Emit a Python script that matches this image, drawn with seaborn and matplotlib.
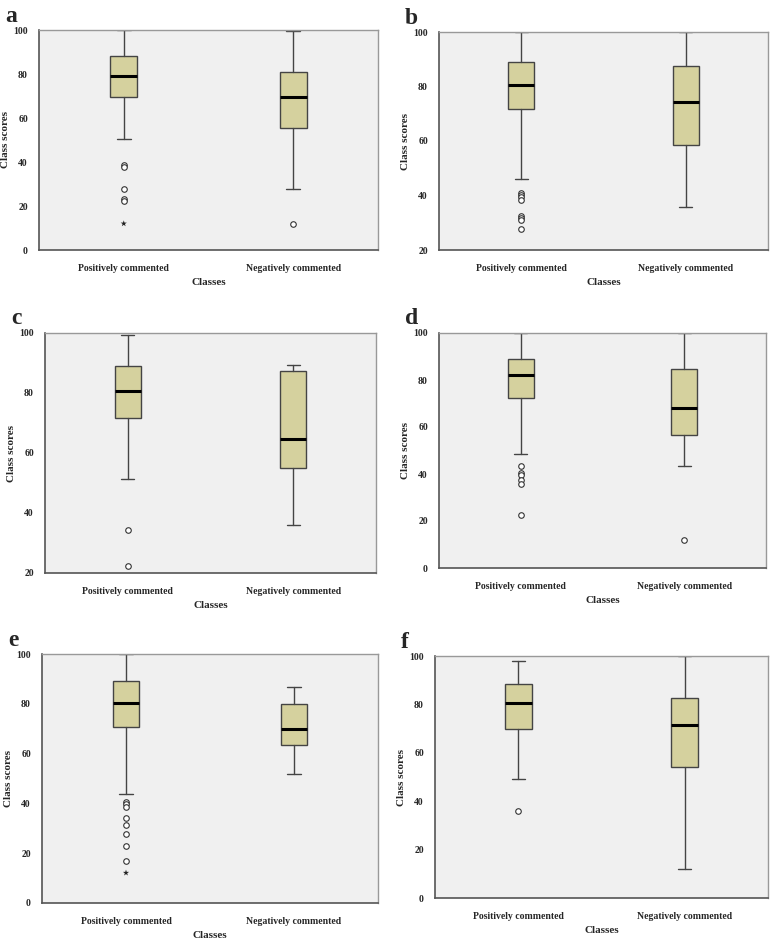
import numpy as np
import matplotlib
matplotlib.use('Agg')
import matplotlib.pyplot as plt
import seaborn as sns

sns.set_style('white')
plt.rcParams['font.family'] = ['Liberation Serif', 'DejaVu Serif']
plt.rcParams['font.weight'] = 'bold'

classes = ['Positively commented', 'Negatively commented']
panels = ['a', 'b', 'c', 'd', 'e', 'f']

# five-number summaries per panel: [whislo, q1, med, q3, whishi]
pos_stats = {
    'a': [50.4, 69.5, 79.1, 88.3, 100.0],
    'b': [46.1, 71.7, 80.4, 88.9, 100.0],
    'c': [51.2, 71.8, 80.7, 89.0, 99.5],
    'd': [48.5, 72.3, 82.1, 89.1, 100.0],
    'e': [43.6, 70.5, 80.3, 89.1, 100.0],
    'f': [49.2, 69.7, 80.4, 88.3, 97.9],
}
neg_stats = {
    'a': [27.6, 55.6, 69.5, 80.9, 99.4],
    'b': [35.7, 58.5, 74.4, 87.5, 100.0],
    'c': [35.9, 54.9, 64.6, 87.4, 89.2],
    'd': [43.5, 56.5, 68.2, 84.5, 100.0],
    'e': [51.9, 63.3, 69.7, 80.0, 86.7],
    'f': [12.0, 54.1, 71.4, 82.8, 100.0],
}
# outliers (circles)
pos_out = {
    'a': [38.6, 37.6, 27.6, 23.0, 22.4],
    'b': [41.1, 40.2, 39.4, 38.4, 32.3, 31.6, 31.0, 27.6],
    'c': [34.2, 22.2],
    'd': [43.5, 40.4, 39.7, 37.6, 35.7, 22.7],
    'e': [40.6, 39.7, 38.6, 34.0, 31.2, 27.7, 22.8, 16.9],
    'f': [36.1],
}
neg_out = {'a': [12.0], 'b': [], 'c': [], 'd': [11.9], 'e': [], 'f': []}
# extreme values (stars)
pos_ext = {'a': [12.0], 'e': [12.1]}
ylims = {'a': (0, 100), 'b': (20, 100), 'c': (20, 100),
         'd': (0, 100), 'e': (0, 100), 'f': (0, 100)}

# axes rectangles in pixels: left, top, right, bottom
W, H = 778, 942
rects = {
    'a': (39, 30, 378, 250), 'b': (439, 32, 768, 250),
    'c': (45, 333, 376, 573), 'd': (439, 333, 766, 568),
    'e': (42, 654, 378, 903), 'f': (435, 656, 768, 898),
}

BOX = '#D5D19E'
EDGE = '#444444'

fig = plt.figure(figsize=(W / 100, H / 100), dpi=100)
for p in panels:
    l, t, r, b = rects[p]
    ax = fig.add_axes([l / W, 1 - b / H, (r - l) / W, (b - t) / H])
    ax.set_facecolor('#F0F0F0')
    stats = []
    for i, (s, o) in enumerate([(pos_stats[p], pos_out[p]), (neg_stats[p], neg_out[p])]):
        stats.append(dict(whislo=s[0], q1=s[1], med=s[2], q3=s[3], whishi=s[4],
                          fliers=o, label=classes[i]))
    ax.bxp(stats, positions=[1, 2], widths=0.16, patch_artist=True,
           boxprops=dict(facecolor=BOX, edgecolor=EDGE, linewidth=1.0),
           medianprops=dict(color='black', linewidth=2.2),
           whiskerprops=dict(color=EDGE, linewidth=1.0),
           capprops=dict(color=EDGE, linewidth=1.0), capwidths=0.08,
           flierprops=dict(marker='o', markerfacecolor='white', markeredgecolor='#333333',
                           markersize=4, markeredgewidth=0.8))
    if p in pos_ext:
        sns.scatterplot(x=[1] * len(pos_ext[p]), y=pos_ext[p], marker='*', color='#222222',
                        s=22, edgecolor='none', ax=ax)
    ax.set_xlim(0.5, 2.5)
    ax.set_ylim(*ylims[p])
    ax.set_yticks(np.arange(ylims[p][0], 101, 20))
    ax.set_xticks([1, 2])
    ax.set_xticklabels(classes, fontsize=7, fontweight='bold')
    ax.tick_params(axis='y', labelsize=7, length=3, width=0.8, direction='out', color=EDGE, pad=5)
    ax.tick_params(axis='x', length=3, width=0.6, direction='out', color='#888888', pad=7)
    for lab in ax.get_yticklabels():
        lab.set_fontweight('bold')
    for side in ['left', 'bottom']:
        ax.spines[side].set_color('#555555')
        ax.spines[side].set_linewidth(1.2)
    for side in ['top', 'right']:
        ax.spines[side].set_color('#999999')
        ax.spines[side].set_linewidth(1.0)
    ax.set_xlabel('Classes', fontsize=8, fontweight='bold', labelpad=4)
    ax.set_ylabel('Class scores', fontsize=8, fontweight='bold', labelpad=2)
    fig.text((l - 34) / W, 1 - (t - 14) / H, p, fontsize=17, fontweight='bold',
             ha='left', va='center')

fig.savefig('out.png', dpi=100)
